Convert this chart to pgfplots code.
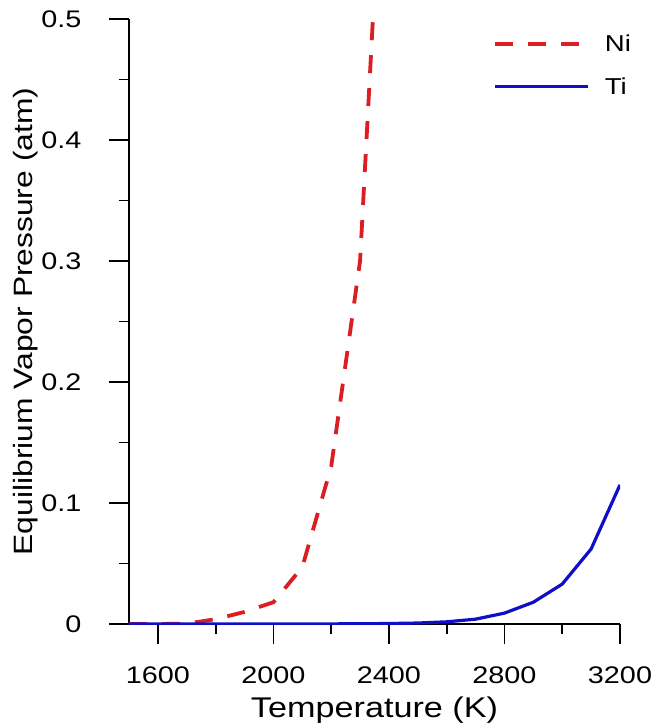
\documentclass[border=0pt]{standalone}
\usepackage{pgfplots}
\pgfplotsset{compat=1.18}
\usepackage{fontspec}
\setmainfont{Liberation Sans}[FakeStretch=1.2]
\definecolor{nired}{RGB}{220,30,35}
\definecolor{tiblue}{RGB}{15,15,200}
\begin{document}
\begin{tikzpicture}
\path[use as bounding box] (-129pt,-101pt) rectangle (523pt,624pt);
\begin{axis}[
  at={(0pt,0pt)}, anchor=origin,
  scale only axis,
  width=491pt, height=605pt,
  xmin=1500, xmax=3200, ymin=0, ymax=0.5,
  axis x line*=bottom, axis y line*=left,
  axis line style={line width=1.6pt, -},
  xtick={1600,2000,2400,2800,3200},
  minor xtick={1800,2200,2600,3000},
  ytick={0,0.1,0.2,0.3,0.4,0.5},
  minor ytick={0.05,0.15,0.25,0.35,0.45},
  yticklabels={0,0.1,0.2,0.3,0.4,0.5},
  xticklabels={1600,2000,2400,2800,3200},
  tick align=outside,
  major tick length=20pt, minor tick length=10pt,
  tick style={line width=1.8pt, black},
  every tick/.append style={line width=1.8pt, black},
  xtick style={line width=1.8pt, black},
  ytick style={line width=1.8pt, black},
  tick label style={font=\fontsize{24}{28}\selectfont},
  yticklabel style={anchor=east, xshift=-24pt},
  xticklabel style={anchor=north, yshift=-19pt},
  xlabel={Temperature (K)},
  ylabel={Equilibrium Vapor Pressure (atm)},
  xlabel style={font=\fontsize{28.5}{34}\selectfont, at={(0.5,0)}, anchor=base, yshift=-93pt},
  ylabel style={font=\fontsize{26.5}{32}\selectfont, at={(0,0.5)}, anchor=base, yshift=96pt},
  legend style={draw=none, fill=none, at={(0.735,0.98)}, anchor=north west,
    font=\fontsize{23}{27}\selectfont, row sep=20pt},
  legend cell align=left,
  legend image code/.code={\draw[#1] (0pt,0pt) -- (93pt,0pt);},
  clip mode=individual,
]
\addplot[nired, line width=3.8pt, dash pattern=on 18pt off 15pt] coordinates {
(1500,0) (1600,0) (1700,0.0003) (1800,0.004) (1900,0.010) (2000,0.018)
(2100,0.047) (2200,0.13) (2300,0.30) (2400,0.75)
};
\addlegendentry{\hspace*{13pt}Ni}
\addplot[tiblue, line width=3.2pt] coordinates {
(1500,0) (1600,0) (1700,0) (1800,0) (1900,0) (2000,0) (2100,0) (2200,0.0001)
(2300,0.0002) (2400,0.0004) (2500,0.0008) (2600,0.0018) (2700,0.004)
(2800,0.009) (2900,0.018) (3000,0.033) (3100,0.062) (3200,0.115)
};
\addlegendentry{\hspace*{13pt}Ti}
\end{axis}
\end{tikzpicture}
\end{document}
